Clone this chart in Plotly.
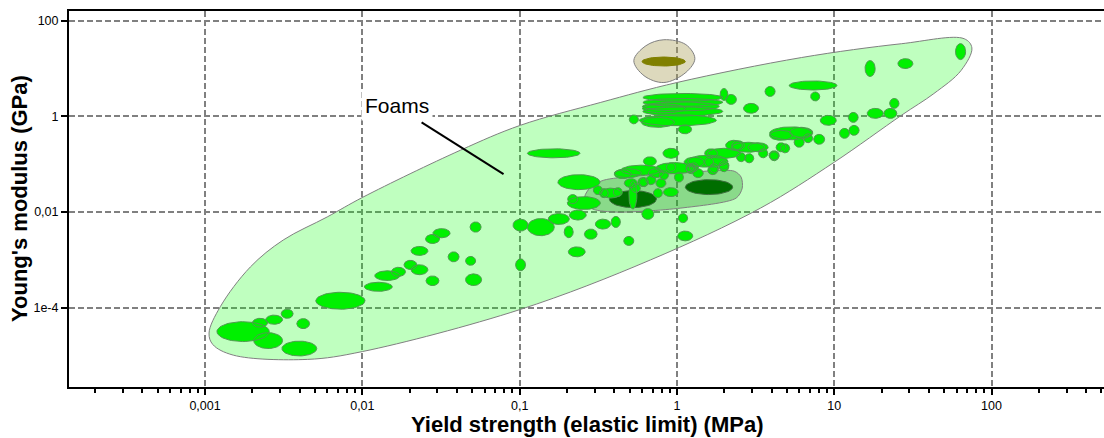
import numpy as np
import plotly.graph_objects as go

# ---------------------------------------------------------------
# Foam materials: yield strength range (MPa) and Young's modulus range (GPa)
# ---------------------------------------------------------------
strength_lo = [0.00119, 0.0020, 0.00243, 0.00305, 0.00383, 0.00204, 0.00308, 0.00506, 0.0103, 0.012,
               0.0153, 0.0184, 0.0204, 0.0204, 0.0252, 0.0281, 0.0254, 0.0351, 0.0453, 0.0453,
               0.0484, 0.112, 0.175, 0.0908, 0.112, 0.152, 0.207, 0.192, 0.258, 0.303,
               0.382, 0.459, 0.204, 0.598, 1.02, 1.01, 0.815, 0.612, 0.202, 5.16,
               3.63, 7.08, 2.65, 2.04, 1.88, 0.607, 0.607, 0.603, 0.603, 0.607,
               0.577, 0.594, 1.02, 0.498, 3.88, 3.88, 5.21, 5.56, 6.38, 7.4,
               4.27, 4.56, 3.88, 8.15, 12.3, 10.8, 12.4, 16.2, 20.7, 22.5,
               15.7, 25.4, 59.0, 0.40, 0.441, 0.735, 1.17, 1.5, 1.56, 2.23,
               2.22, 2.83, 3.3, 2.69, 2.39, 1.86, 1.61, 1.26, 1.15, 0.964,
               0.773, 0.634, 0.577, 0.463, 0.40, 0.735, 0.82, 0.708, 0.513, 0.495,
               0.394, 0.328, 0.294, 0.321, 0.201, 1.5, 1.2, 0.857, 0.0942, 1.11,
               2.04, 1.57, 1.85, 0.564, 1.14, 0.658, 3.85]
strength_hi = [0.00256, 0.0025, 0.00311, 0.00363, 0.00462, 0.00311, 0.00513, 0.0104, 0.0155, 0.0173,
               0.0188, 0.0222, 0.0261, 0.0261, 0.031, 0.0361, 0.0307, 0.0412, 0.0525, 0.0573,
               0.0569, 0.242, 0.324, 0.113, 0.166, 0.207, 0.265, 0.219, 0.311, 0.378,
               0.437, 0.532, 0.261, 0.713, 1.17, 1.26, 1.03, 0.74, 0.234, 10.4,
               4.21, 8.09, 3.3, 2.39, 2.11, 1.96, 1.96, 1.86, 1.13, 1.96,
               1.78, 0.964, 1.24, 0.569, 7.29, 5.43, 7.29, 6.44, 7.29, 8.69,
               4.94, 5.21, 4.44, 10.3, 14.2, 12.5, 14.4, 20.5, 25.0, 25.8,
               18.2, 31.6, 68.4, 0.594, 0.791, 1.28, 2.11, 1.81, 2.54, 2.69,
               3.61, 3.8, 3.78, 3.08, 2.74, 2.13, 1.84, 1.47, 1.31, 1.10,
               0.883, 0.735, 0.659, 0.56, 0.513, 0.851, 1.02, 0.809, 0.586, 0.556,
               0.45, 0.441, 0.336, 0.366, 0.326, 1.71, 1.37, 0.979, 0.109, 1.49,
               2.61, 1.82, 2.14, 0.653, 1.32, 0.820, 4.47]
modulus_lo = [1.96e-5, 3.9e-5, 4.5e-5, 6.0e-5, 3.65e-5, 1.4e-5, 9.8e-6, 9.3e-5, 2.2e-4, 3.7e-4,
              4.5e-4, 6.3e-4, 4.9e-4, 1.24e-3, 2.2e-3, 2.9e-3, 2.9e-4, 9.1e-4, 7.7e-4, 2.9e-4,
              3.8e-3, 0.136, 0.0294, 4.0e-3, 3.2e-3, 5.5e-3, 6.8e-3, 2.9e-3, 2.7e-3, 4.4e-3,
              4.75e-3, 2.0e-3, 1.16e-3, 7.0e-3, 6.0e-3, 2.5e-3, 0.133, 0.093, 0.015, 3.56,
              2.61, 2.1, 1.16, 1.78, 2.15, 2.06, 1.62, 1.3, 1.18, 1.02,
              0.634, 0.59, 0.432, 0.698, 0.324, 0.316, 0.366, 0.226, 0.281, 0.261,
              0.182, 0.173, 0.118, 0.65, 0.75, 0.348, 0.402, 0.908, 0.908, 1.47,
              6.81, 10.0, 15.4, 0.0524, 0.059, 0.0634, 0.0866, 0.136, 0.133, 0.20,
              0.178, 0.182, 0.136, 0.107, 0.113, 0.0698, 0.0665, 0.0524, 0.0634, 0.0422,
              0.0475, 0.0374, 0.034, 0.0324, 0.0499, 0.0324, 0.021, 0.020, 0.0255, 0.0115,
              0.021, 0.0196, 0.0231, 0.020, 0.0113, 0.0887, 0.0698, 0.0698, 5.9e-4, 0.0867,
              0.196, 0.0604, 0.0767, 0.034, 0.0665, 0.0524, 0.124]
modulus_hi = [5.1e-5, 6.0e-5, 7.0e-5, 9.3e-5, 5.9e-5, 3.0e-5, 2.0e-5, 2.1e-4, 3.4e-4, 5.9e-4,
              7.0e-4, 9.8e-4, 7.9e-4, 1.91e-3, 3.4e-3, 4.5e-3, 4.6e-4, 1.47e-3, 1.18e-3, 5.1e-4,
              6.2e-3, 0.210, 0.0604, 7.1e-3, 7.3e-3, 9.3e-3, 0.011, 5.1e-3, 4.4e-3, 7.1e-3,
              8.1e-3, 3.1e-3, 1.87e-3, 0.0118, 9.3e-3, 4.0e-3, 0.215, 0.143, 0.0232, 5.5,
              4.22, 3.24, 1.87, 2.87, 3.83, 3.01, 2.37, 2.0, 1.82, 1.58,
              1.08, 0.953, 0.665, 1.07, 0.604, 0.511, 0.59, 0.365, 0.433, 0.422,
              0.281, 0.267, 0.182, 1.05, 1.21, 0.562, 0.649, 1.47, 1.47, 2.37,
              14.7, 16.1, 33.2, 0.0805, 0.0953, 0.108, 0.154, 0.21, 0.215, 0.309,
              0.287, 0.281, 0.21, 0.166, 0.174, 0.107, 0.103, 0.0805, 0.0977, 0.0681,
              0.0733, 0.0577, 0.0524, 0.0499, 0.0769, 0.0499, 0.0324, 0.0309, 0.0393, 0.0443,
              0.0324, 0.0316, 0.0356, 0.0309, 0.021, 0.137, 0.107, 0.107, 1.05e-3, 0.14,
              0.316, 0.0931, 0.118, 0.0524, 0.103, 0.0805, 0.191]

# Two darker sub-class bubbles and their shared envelope
dark_strength_lo = [0.372, 1.13]
dark_strength_hi = [0.741, 2.26]
dark_modulus_lo = [0.0124, 0.0232]
dark_modulus_hi = [0.0281, 0.0475]

# Separate (non-foam) bubble sitting above the foam field
olive_strength = [0.60, 1.13]
olive_modulus = [11.3, 17.4]

# Envelope outlines (MPa, GPa)
foam_env_strength = [0.00106, 0.00125, 0.00194, 0.00314, 0.00598, 0.0101, 0.042, 0.101, 0.328, 1.0,
                     6.2, 26.7, 67, 75, 64, 43, 26.7, 10, 3.4, 0.68,
                     0.1, 0.01, 0.00447, 0.00151, 0.00112, 0.00106]
foam_env_modulus = [2.95e-5, 1.05e-4, 7.1e-4, 2.6e-3, 7.9e-3, 0.0205, 0.196, 0.65, 1.96, 5.1,
                    17, 33, 42, 27, 9.1, 3.0, 1.05, 0.11, 0.0121, 0.001,
                    9.1e-5, 1.21e-5, 8.3e-6, 1.02e-5, 1.7e-5, 2.95e-5]

sub_env_strength = [0.259, 0.283, 0.343, 1.06, 2.31, 2.56, 2.6, 2.38, 1.06, 0.397, 0.283, 0.259]
sub_env_modulus = [0.0205, 0.0332, 0.0464, 0.065, 0.0715, 0.0536, 0.0316, 0.0196, 0.0121, 0.01, 0.0121, 0.0205]

tan_env_strength = [0.532, 0.635, 0.826, 1.14, 1.3, 1.14, 0.826, 0.617, 0.532]
tan_env_modulus = [14.7, 30, 40, 31.6, 16.2, 8.3, 5.1, 7.1, 14.7]

# Label and leader line
label_text = "Foams"
label_pos = (0.0165, 1.69)
leader_strength = [0.0238, 0.079]
leader_modulus = [0.75, 0.0619]

# Axis ticks
x_tickvals = [0.001, 0.01, 0.1, 1, 10, 100]
x_ticktext = ["0,001", "0,01", "0,1", "1", "10", "100"]
y_tickvals = [100, 1, 0.01, 1e-4]
y_ticktext = ["100", "1", "0,01", "1e-4"]
x_minor = [m * 10.0 ** e for e in range(-4, 3) for m in range(2, 10)]

FONT = "Arial, Liberation Sans, sans-serif"


def ellipse(slo, shi, elo, ehi, n=60):
    """Ellipse in log-log space spanning the given property ranges."""
    lx0, lx1 = np.log10(slo), np.log10(shi)
    ly0, ly1 = np.log10(elo), np.log10(ehi)
    cx, cy = (lx0 + lx1) / 2, (ly0 + ly1) / 2
    rx, ry = (lx1 - lx0) / 2, (ly1 - ly0) / 2
    t = np.linspace(0, 2 * np.pi, n)
    return list(10 ** (cx + rx * np.cos(t))), list(10 ** (cy + ry * np.sin(t)))


def bubbles(slo, shi, elo, ehi):
    xs, ys = [], []
    for a, b, c, d in zip(slo, shi, elo, ehi):
        ex, ey = ellipse(a, b, c, d)
        xs += ex + [None]
        ys += ey + [None]
    return xs, ys


fig = go.Figure()

# Foam family envelope
fig.add_trace(go.Scatter(
    x=foam_env_strength, y=foam_env_modulus, mode="lines", line_shape="spline",
    line=dict(color="#808080", width=1, smoothing=1.0), fill="toself",
    fillcolor="rgba(0,255,0,0.25)", hoverinfo="skip", showlegend=False))

# Sub-class envelope
fig.add_trace(go.Scatter(
    x=sub_env_strength, y=sub_env_modulus, mode="lines", line_shape="spline",
    line=dict(color="#808080", width=1, smoothing=0.8), fill="toself",
    fillcolor="rgba(40,150,40,0.35)", hoverinfo="skip", showlegend=False))

# Tan envelope
fig.add_trace(go.Scatter(
    x=tan_env_strength, y=tan_env_modulus, mode="lines", line_shape="spline",
    line=dict(color="#808080", width=1, smoothing=1.0), fill="toself",
    fillcolor="rgba(170,160,90,0.4)", hoverinfo="skip", showlegend=False))

# Dark sub-class bubbles
dx, dy = bubbles(dark_strength_lo, dark_strength_hi, dark_modulus_lo, dark_modulus_hi)
fig.add_trace(go.Scatter(
    x=dx, y=dy, mode="lines", line=dict(color="#3c6e3c", width=1), fill="toself",
    fillcolor="#006e00", hoverinfo="skip", showlegend=False))

# Olive bubble
ox, oy = ellipse(olive_strength[0], olive_strength[1], olive_modulus[0], olive_modulus[1])
fig.add_trace(go.Scatter(
    x=ox, y=oy, mode="lines", line=dict(color="#808000", width=1), fill="toself",
    fillcolor="#808000", hoverinfo="skip", showlegend=False))

# Foam bubbles
bx, by = bubbles(strength_lo, strength_hi, modulus_lo, modulus_hi)
fig.add_trace(go.Scatter(
    x=bx, y=by, mode="lines", line=dict(color="#4f9a4f", width=1), fill="toself",
    fillcolor="#00f000", hoverinfo="skip", showlegend=False))

# Leader line for the label
fig.add_trace(go.Scatter(
    x=leader_strength, y=leader_modulus, mode="lines",
    line=dict(color="black", width=2), hoverinfo="skip", showlegend=False))

fig.add_annotation(
    x=np.log10(label_pos[0]), y=np.log10(label_pos[1]), xref="x", yref="y",
    text=label_text, showarrow=False, bgcolor="white", borderpad=3,
    font=dict(family=FONT, size=21, color="black"))

fig.add_annotation(
    x=0.5, y=0, xref="paper", yref="paper", yanchor="middle", yshift=-37,
    text="<b>Yield strength (elastic limit) (MPa)</b>", showarrow=False,
    font=dict(family=FONT, size=22, color="black"))

fig.add_annotation(
    x=0, y=0.5, xref="paper", yref="paper", xanchor="center", yanchor="middle",
    xshift=-50, textangle=-90,
    text="<b>Young's modulus (GPa)</b>", showarrow=False,
    font=dict(family=FONT, size=22, color="black"))

grid = dict(showgrid=True, gridcolor="#808080", gridwidth=2, griddash="6px,3px")

fig.update_xaxes(
    type="log", range=[-3.865, 2.715], tickvals=x_tickvals, ticktext=x_ticktext,
    ticks="outside", ticklen=6, tickwidth=2, tickcolor="black",
    tickfont=dict(family=FONT, size=12.5, color="black"),
    showline=True, linecolor="black", linewidth=2, mirror=True, zeroline=False,
    minor=dict(tickvals=x_minor, ticks="outside", ticklen=4, tickwidth=2,
               tickcolor="black", showgrid=False),
    **grid)

fig.update_yaxes(
    type="log", range=[-5.658, 2.203], tickvals=y_tickvals, ticktext=y_ticktext,
    ticks="outside", ticklen=6, tickwidth=2, tickcolor="black",
    tickfont=dict(family=FONT, size=12.5, color="black"),
    showline=True, linecolor="black", linewidth=2, mirror=False, zeroline=False,
    **grid)

fig.update_layout(
    width=1104, height=438, autosize=False,
    margin=dict(l=69, r=0, t=11, b=51),
    paper_bgcolor="white", plot_bgcolor="white",
    showlegend=False, font=dict(family=FONT))

fig.write_html("out.html")
